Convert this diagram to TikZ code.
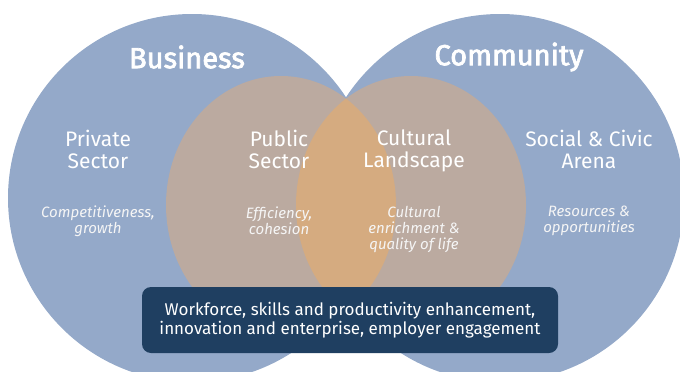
\documentclass[tikz,border=0pt]{standalone}
\usepackage{fontspec}
\setmainfont{Fira Sans}
\newfontfamily\titlefont[FakeBold=2.5]{Fira Sans}
\definecolor{circleblue}{HTML}{94A9C9}
\definecolor{ovaltan}{HTML}{BBAAA0}
\definecolor{lensorange}{HTML}{D5AB80}
\definecolor{boxnavy}{HTML}{1F3F61}
\begin{document}
\begin{tikzpicture}[x=1pt,y=-1pt,
	title/.style={text=white,font=\titlefont\fontsize{29}{30}\selectfont},
	sector/.style={text=white,align=center,font=\fontsize{21}{22}\selectfont},
	aim/.style={text=white!92!gray,align=center,font=\fontsize{15}{16}\selectfont\itshape}]
	\useasboundingbox (0,0) rectangle (680,372);
	\clip (0,0) rectangle (680,372);
	% two big circles
	\fill[circleblue] (192,198) circle (184pt);
	\fill[circleblue] (500,198) circle (184pt);
	% inner ovals and their overlap
	\fill[ovaltan] (281,205) ellipse (115pt and 129pt);
	\fill[ovaltan] (411,205) ellipse (115pt and 129pt);
	\begin{scope}
		\clip (281,205) ellipse (115pt and 129pt);
		\fill[lensorange] (411,205) ellipse (115pt and 129pt);
	\end{scope}
	\node[title] (business) at (187,57) {Business};
	\node[title] (community) at (509,57) {Community};
	\node[sector] (private) at (98,149) {Private\\Sector};
	\node[sector] (public) at (279,149) {Public\\Sector};
	\node[sector] (cultural) at (414,151) {Cultural\\Landscape};
	\node[sector] (social) at (589,149) {Social \& Civic\\Arena};
	\node[aim] (growth) at (98,221) {Competitiveness,\\growth};
	\node[aim] (cohesion) at (279,221) {Efficiency,\\cohesion};
	\node[aim] (enrich) at (414,229) {Cultural\\enrichment \&\\quality of life};
	\node[aim] (resources) at (589,221) {Resources \&\\opportunities};
	\node[fill=boxnavy,rounded corners=9pt,minimum width=416pt,minimum height=66pt,
		text=white,align=center,font=\fontsize{17}{19}\selectfont] (skills) at (350,320)
		{Workforce, skills and productivity enhancement,\\innovation and enterprise, employer engagement};
\end{tikzpicture}
\end{document}
